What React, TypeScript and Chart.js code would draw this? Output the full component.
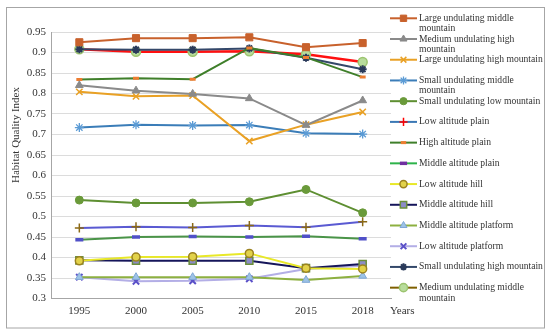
import React, { useEffect, useRef } from 'react';
import { Chart, registerables } from 'chart.js';
import { drawPoint } from 'chart.js/helpers';

Chart.register(...registerables);

const years = ['1995', '2000', '2005', '2010', '2015', '2018'];
const yTickMin = 0.3;
const yTickMax = 0.95;
const yTickStep = 0.05;

const largeUndulatingMiddleMountain = [0.925, 0.935, 0.935, 0.937, 0.913, 0.923];
const mediumUndulatingHighMountain = [0.82, 0.807, 0.799, 0.788, 0.723, 0.783];
const largeUndulatingHighMountain = [0.804, 0.793, 0.795, 0.684, 0.724, 0.755];
const smallUndulatingMiddleMountain = [0.717, 0.724, 0.722, 0.723, 0.703, 0.701];
const smallUndulatingLowMountain = [0.54, 0.533, 0.533, 0.536, 0.566, 0.509];
const lowAltitudePlain = [0.472, 0.475, 0.473, 0.478, 0.474, 0.487];
const highAltitudePlain = [0.834, 0.837, 0.835, 0.911, 0.888, 0.84];
const middleAltitudePlain = [0.443, 0.45, 0.451, 0.45, 0.452, 0.446];
const lowAltitudeHill = [0.392, 0.401, 0.402, 0.41, 0.374, 0.372];
const middleAltitudeHill = [0.393, 0.392, 0.392, 0.392, 0.374, 0.384];
const middleAltitudePlatform = [0.352, 0.352, 0.352, 0.352, 0.345, 0.355];
const lowAltitudePlatform = [0.352, 0.342, 0.343, 0.348, 0.372, 0.38];
const smallUndulatingHighMountain = [0.908, 0.907, 0.907, 0.91, 0.887, 0.859];
const mediumUndulatingMiddleMountain = [0.908, 0.902, 0.902, 0.903, 0.896, 0.877];

const yAxisTitle = 'Habitat Quality Index';
const xAxisTitle = 'Years';

const FONT = "'Liberation Serif', 'Times New Roman', serif";
const TEXT = '#333333';

type Spec = {
  label: string;
  data: number[];
  line: string;
  width: number;
  style: string;
  radius: number;
  bg: string;
  border: string;
  pbw: number;
  legendLine?: string;
  legendBg?: string;
  legendBorder?: string;
};

const specs: Spec[] = [
  { label: 'Large undulating middle mountain', data: largeUndulatingMiddleMountain, line: '#C8612C', width: 2, style: 'rect', radius: 5, bg: '#C8612C', border: '#C8612C', pbw: 1 },
  { label: 'Medium undulating high mountain', data: mediumUndulatingHighMountain, line: '#8A8A8A', width: 2, style: 'triangle', radius: 4.5, bg: '#8A8A8A', border: '#8A8A8A', pbw: 1 },
  { label: 'Large undulating high mountain', data: largeUndulatingHighMountain, line: '#E9A125', width: 2, style: 'crossRot', radius: 4.5, bg: '#E9A125', border: '#E9A125', pbw: 1.5 },
  { label: 'Small undulating middle mountain', data: smallUndulatingMiddleMountain, line: '#3B7DB8', width: 2, style: 'star', radius: 4.5, bg: '#5B9BD5', border: '#5B9BD5', pbw: 1.3 },
  { label: 'Small undulating low mountain', data: smallUndulatingLowMountain, line: '#5E8F32', width: 2, style: 'circle', radius: 4, bg: '#6A9A3A', border: '#6A9A3A', pbw: 1 },
  { label: 'Low altitude plain', data: lowAltitudePlain, line: '#5A5AD2', width: 2, style: 'cross', radius: 4.5, bg: '#8B6914', border: '#8B6914', pbw: 1.5, legendLine: '#3A78B5', legendBg: '#FF0000', legendBorder: '#FF0000' },
  { label: 'High altitude plain', data: highAltitudePlain, line: '#3F7F2A', width: 2, style: 'line', radius: 3, bg: '#ED7D31', border: '#ED7D31', pbw: 3 },
  { label: 'Middle altitude plain', data: middleAltitudePlain, line: '#4A9448', width: 2, style: 'line', radius: 4, bg: '#5050C8', border: '#5050C8', pbw: 3.5, legendLine: '#2DB34A', legendBg: '#7030A0', legendBorder: '#7030A0' },
  { label: 'Low altitude hill', data: lowAltitudeHill, line: '#E8E828', width: 2, style: 'circle', radius: 4, bg: '#E2D24A', border: '#9C8220', pbw: 1.5 },
  { label: 'Middle altitude hill', data: middleAltitudeHill, line: '#15155A', width: 2, style: 'rect', radius: 5, bg: '#8C8CC8', border: '#6B8E3A', pbw: 1.5 },
  { label: 'Middle altitude platform', data: middleAltitudePlatform, line: '#8DB040', width: 2, style: 'triangle', radius: 4.5, bg: '#9DC3E6', border: '#7FA7D6', pbw: 1 },
  { label: 'Low altitude platform', data: lowAltitudePlatform, line: '#B3AEE6', width: 2, style: 'crossRot', radius: 4.5, bg: '#5A50C8', border: '#5A50C8', pbw: 2 },
  { label: 'Small undulating high mountain', data: smallUndulatingHighMountain, line: '#34486A', width: 2, style: 'star', radius: 4, bg: '#2A3A5A', border: '#2A3A5A', pbw: 2 },
  { label: 'Medium undulating middle mountain', data: mediumUndulatingMiddleMountain, line: '#FF1010', width: 2.5, style: 'circle', radius: 4.5, bg: '#B8DC9C', border: '#9CC46F', pbw: 1.5, legendLine: '#7F6000' },
];

function wrapText(ctx: CanvasRenderingContext2D, text: string, maxWidth: number): string[] {
  const words = text.split(' ');
  const lines: string[] = [];
  let cur = '';
  for (const w of words) {
    const test = cur ? cur + ' ' + w : w;
    if (ctx.measureText(test).width > maxWidth && cur) {
      lines.push(cur);
      cur = w;
    } else {
      cur = test;
    }
  }
  if (cur) lines.push(cur);
  return lines;
}

const decorPlugin = {
  id: 'decor',
  afterDraw(chart: any) {
    const ctx: CanvasRenderingContext2D = chart.ctx;
    ctx.save();
    ctx.strokeStyle = '#A6A6A6';
    ctx.lineWidth = 1;
    ctx.strokeRect(6.5, 7.5, 538, 320.5);

    ctx.fillStyle = TEXT;
    ctx.font = `11px ${FONT}`;
    ctx.save();
    ctx.translate(16, 135);
    ctx.rotate(-Math.PI / 2);
    ctx.textAlign = 'center';
    ctx.textBaseline = 'middle';
    ctx.fillText(yAxisTitle, 0, 0);
    ctx.restore();

    ctx.textAlign = 'left';
    ctx.textBaseline = 'middle';
    ctx.fillText(xAxisTitle, 390, 311);

    ctx.font = `9.6px ${FONT}`;
    specs.forEach((s, i) => {
      const y = 18.3 + i * 20.72;
      ctx.strokeStyle = s.legendLine ?? s.line;
      ctx.lineWidth = 2;
      ctx.beginPath();
      ctx.moveTo(390, y);
      ctx.lineTo(417, y);
      ctx.stroke();
      ctx.fillStyle = s.legendBg ?? s.bg;
      ctx.strokeStyle = s.legendBorder ?? s.border;
      ctx.lineWidth = s.pbw;
      drawPoint(ctx, { pointStyle: s.style as any, radius: s.radius * 0.9, borderWidth: s.pbw, rotation: 0 } as any, 403.5, y);
      ctx.fillStyle = TEXT;
      ctx.textAlign = 'left';
      ctx.textBaseline = 'middle';
      const lines = wrapText(ctx, s.label, 124);
      lines.forEach((ln, j) => ctx.fillText(ln, 419, y + j * 10.5));
    });
    ctx.restore();
  },
};

export default function App() {
  const ref = useRef<HTMLCanvasElement | null>(null);
  useEffect(() => {
    if (!ref.current) return;
    Chart.defaults.font.family = FONT;
    Chart.defaults.color = TEXT;
    const chart = new Chart(ref.current, {
      type: 'line',
      data: {
        labels: years,
        datasets: specs.map((s) => ({
          label: s.label,
          data: s.data,
          borderColor: s.line,
          backgroundColor: s.bg,
          borderWidth: s.width,
          pointStyle: s.style as any,
          pointRadius: s.radius,
          pointBackgroundColor: s.bg,
          pointBorderColor: s.border,
          pointBorderWidth: s.pbw,
          tension: 0,
          fill: false,
        })),
      },
      options: {
        animation: false,
        responsive: true,
        maintainAspectRatio: false,
        layout: { padding: { top: 32, left: 0, right: 159, bottom: 0 } },
        plugins: {
          legend: { display: false },
          tooltip: { enabled: false },
        },
        scales: {
          x: {
            type: 'category',
            offset: true,
            grid: { display: false, drawTicks: false },
            border: { display: true, color: '#A6A6A6', width: 1 },
            ticks: { font: { size: 11, family: FONT }, color: TEXT, padding: 6, maxRotation: 0 },
            afterFit: (s: any) => { s.height = 37.5; },
          },
          y: {
            min: yTickMin,
            max: yTickMax,
            grid: { color: '#DCDCDC', drawTicks: false, lineWidth: 1 },
            border: { display: true, color: '#A6A6A6', width: 1 },
            ticks: {
              stepSize: yTickStep,
              font: { size: 11, family: FONT },
              color: TEXT,
              padding: 5,
              callback: (v: any) => String(Number(Number(v).toFixed(2))),
            },
            afterFit: (s: any) => { s.width = 51; },
          },
        },
      },
      plugins: [decorPlugin],
    });
    return () => chart.destroy();
  }, []);
  return (
    <div style={{ position: 'absolute', left: 0, top: 0, width: 550, height: 336, background: '#fff' }}>
      <canvas ref={ref} />
    </div>
  );
}
